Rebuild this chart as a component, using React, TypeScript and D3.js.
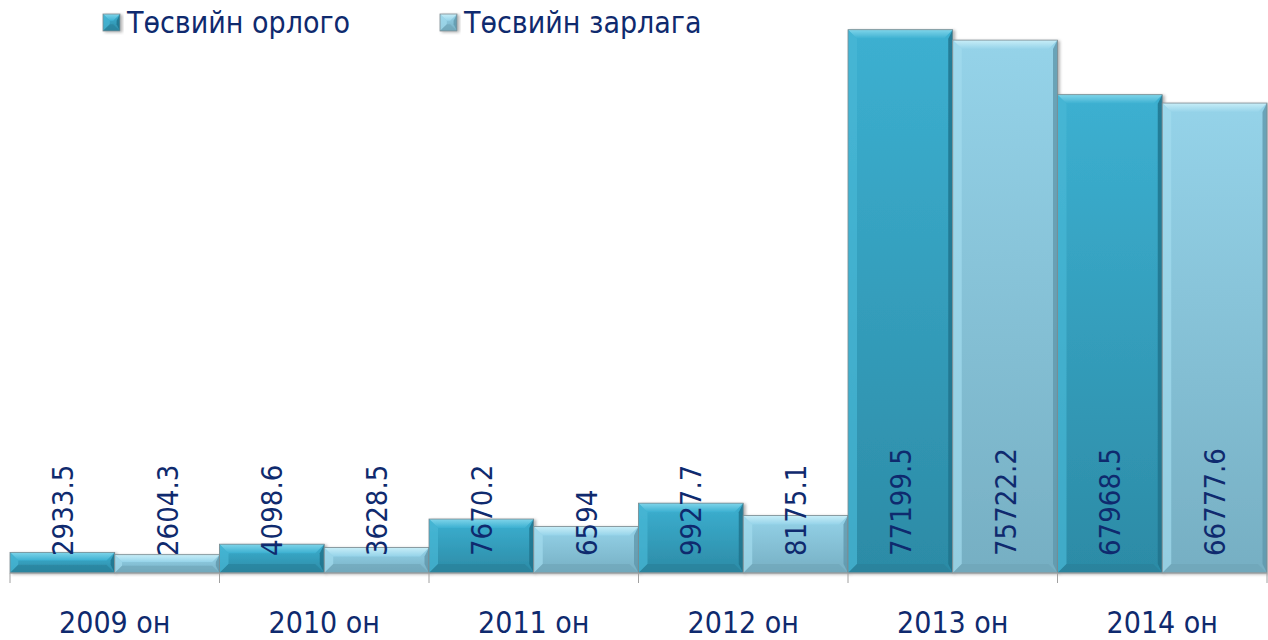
import React from "react";
import * as d3 from "d3";

const years = ["2009 он", "2010 он", "2011 он", "2012 он", "2013 он", "2014 он"];
const seriesNames = ["Төсвийн орлого", "Төсвийн зарлага"];
const income = [2933.5, 4098.6, 7670.2, 9927.7, 77199.5, 67968.5];
const expense = [2604.3, 3628.5, 6594, 8175.1, 75722.2, 66777.6];
const valueLabels = [
  ["2933.5", "4098.6", "7670.2", "9927.7", "77199.5", "67968.5"],
  ["2604.3", "3628.5", "6594", "8175.1", "75722.2", "66777.6"],
];

const W = 1268;
const H = 640;
const left = 10;
const right = 1267;
const top = 10;
const base = 573;
const textColor = "#0f2a6e";
const font = "'DejaVu Sans Condensed', 'DejaVu Sans', sans-serif";
const fs = 29;

const palettes = [
  { top: "#3cb0d1", bottom: "#2c8ba6", bevelTop: "#7fd5ea", left: "#48b8d6", right: "#1f7189", bot: "#2a7f97", id: "g0" },
  { top: "#95d3e9", bottom: "#76afc3", bevelTop: "#c8eef8", left: "#a2dbee", right: "#5f97ab", bot: "#6ea3b6", id: "g1" },
];

function Bar({ x, y, w, h, p }: { x: number; y: number; w: number; h: number; p: any }) {
  const b = Math.min(9, h / 2.5);
  const x2 = x + w;
  const y2 = y + h;
  return (
    <g filter="url(#shadow)">
      <rect x={x} y={y} width={w} height={h} fill={`url(#${p.id})`} />
      <polygon points={`${x},${y} ${x2},${y} ${x2 - b},${y + b} ${x + b},${y + b}`} fill={`url(#${p.id}t)`} />
      <polygon points={`${x},${y} ${x + b},${y + b} ${x + b},${y2 - b} ${x},${y2}`} fill={p.left} opacity={0.7} />
      <polygon points={`${x2},${y} ${x2},${y2} ${x2 - b * 0.5},${y2 - b} ${x2 - b * 0.5},${y + b}`} fill={p.right} opacity={0.8} />
      <polygon points={`${x},${y2} ${x2},${y2} ${x2 - b},${y2 - b} ${x + b},${y2 - b}`} fill={p.bot} opacity={0.6} />
      <rect x={x} y={y} width={w} height={h} fill="none" stroke="#7d8b90" strokeWidth={0.8} />
    </g>
  );
}

export default function App() {
  const x0 = d3.scaleBand<string>().domain(years).range([left, right]).padding(0);
  const x1 = d3.scaleBand<number>().domain([0, 1]).range([0, x0.bandwidth()]).padding(0);
  const y = d3.scaleLinear().domain([0, 80000]).range([base, top]);
  const series = [income, expense];
  const ticks = years.map((d) => x0(d) as number).concat([right]);

  return (
    <svg width={W} height={H} style={{ position: "absolute", left: 0, top: 0 }} fontFamily={font}>
      <defs>
        {palettes.map((p) => (
          <React.Fragment key={p.id}>
            <linearGradient id={p.id} x1="0" y1="0" x2="0" y2="1">
              <stop offset="0" stopColor={p.top} />
              <stop offset="1" stopColor={p.bottom} />
            </linearGradient>
            <linearGradient id={p.id + "t"} x1="0" y1="0" x2="0" y2="1">
              <stop offset="0" stopColor={p.bevelTop} />
              <stop offset="1" stopColor={p.top} />
            </linearGradient>
          </React.Fragment>
        ))}
        <filter id="shadow" x="-10%" y="-10%" width="130%" height="130%">
          <feDropShadow dx="2" dy="1" stdDeviation="1.5" floodColor="#000" floodOpacity="0.3" />
        </filter>
      </defs>

      {/* legend */}
      {seriesNames.map((name, i) => {
        const lx = i === 0 ? 103 : 440;
        return (
          <g key={name}>
            <Bar x={lx} y={14} w={17} h={17} p={palettes[i]} />
            <text x={lx + 24} y={33} fontSize={fs + 1} fill={textColor}>
              {name}
            </text>
          </g>
        );
      })}

      {/* bars */}
      {years.map((yr, i) => (
        <g key={yr} transform={`translate(${x0(yr)},0)`}>
          {series.map((s, j) => (
            <Bar key={j} x={x1(j) as number} y={y(s[i])} w={x1.bandwidth()} h={base - y(s[i])} p={palettes[j]} />
          ))}
        </g>
      ))}

      {/* axis */}
      <line x1={left} x2={right} y1={base} y2={base} stroke="#a0a0a0" strokeWidth={1} />
      {ticks.map((t, i) => (
        <line key={i} x1={t} x2={t} y1={base} y2={base + 10} stroke="#a0a0a0" strokeWidth={1} />
      ))}
      {years.map((yr) => (
        <text key={yr} x={(x0(yr) as number) + x0.bandwidth() / 2} y={633} fontSize={fs + 1} fill={textColor} textAnchor="middle">
          {yr}
        </text>
      ))}

      {/* value labels */}
      {years.map((yr, i) =>
        series.map((_, j) => {
          const cx = (x0(yr) as number) + (x1(j) as number) + x1.bandwidth() / 2;
          return (
            <text
              key={yr + j}
              transform={`translate(${cx},556) rotate(-90)`}
              dy="0.36em"
              fontSize={fs}
              fill={textColor}
            >
              {valueLabels[j][i]}
            </text>
          );
        })
      )}
    </svg>
  );
}
